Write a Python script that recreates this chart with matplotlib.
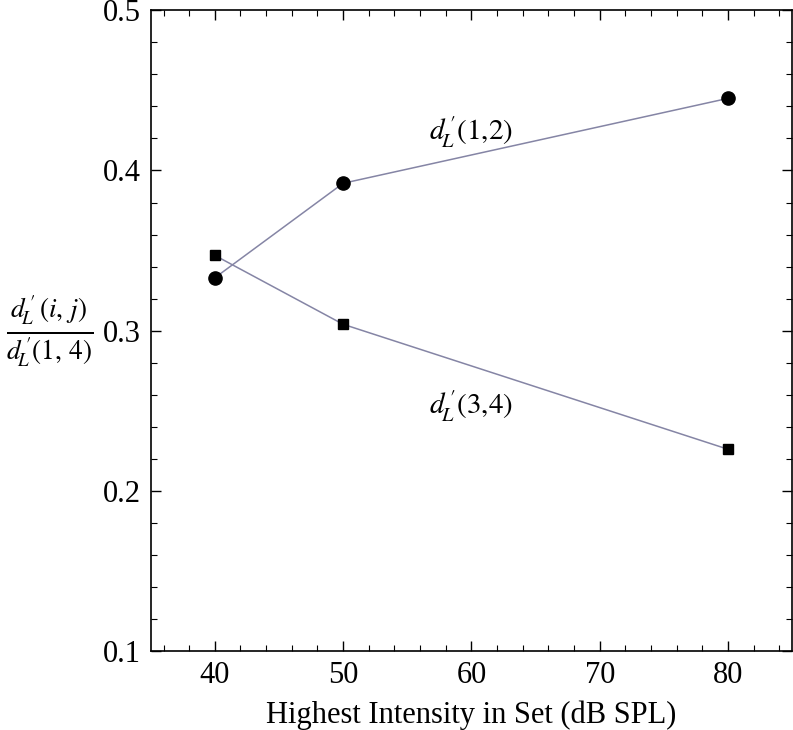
import matplotlib
matplotlib.use("Agg")
import matplotlib.pyplot as plt
from matplotlib.ticker import MultipleLocator

plt.rcParams['font.family'] = ['Liberation Serif', 'DejaVu Serif']
plt.rcParams['mathtext.fontset'] = 'stix'

# data
intensity = [40, 50, 80]
d12 = [0.333, 0.392, 0.445]
d34 = [0.347, 0.304, 0.226]

line_col = '#8585a5'

fig = plt.figure(figsize=(7.93, 7.30), dpi=100)
ax = fig.add_axes([0.190, 0.108, 0.809, 0.878])

ax.plot(intensity, d12, color=line_col, lw=1.1, zorder=2)
ax.plot(intensity, d34, color=line_col, lw=1.1, zorder=2)
ax.plot(intensity, d12, 'o', color='black', ms=9.5, zorder=3)
ax.plot(intensity, d34, 's', color='black', ms=7.5, zorder=3)

ax.text(60.0, 0.424, r"$d^{\,\prime}_{\!L}(1{,}2)$", fontsize=21, ha='center', va='center')
ax.text(60.0, 0.253, r"$d^{\,\prime}_{\!L}(3{,}4)$", fontsize=21, ha='center', va='center')

ax.set_xlim(35, 85)
ax.set_ylim(0.1, 0.5)
ax.xaxis.set_major_locator(MultipleLocator(10))
ax.xaxis.set_minor_locator(MultipleLocator(2))
ax.yaxis.set_major_locator(MultipleLocator(0.1))
ax.yaxis.set_minor_locator(MultipleLocator(0.02))
ax.tick_params(which='both', direction='in', top=True, right=True, labelsize=22, pad=7)
ax.tick_params(which='major', length=7, width=1)
ax.tick_params(which='minor', length=4, width=0.8)
ax.set_xticks([40, 50, 60, 70, 80])
for s in ax.spines.values():
    s.set_linewidth(1.2)

ax.set_xlabel("Highest Intensity in Set (dB SPL)", fontsize=22, labelpad=8)
ax.set_ylabel(r"$\frac{d^{\,\prime}_{\!L}\,(i,\,j)}{d^{\,\prime}_{\!L}(1,\,4)}$", fontsize=28,
              rotation=0, ha='center', va='center')
ax.yaxis.set_label_coords(-0.158, 0.50)

fig.savefig("out.png", dpi=100)
